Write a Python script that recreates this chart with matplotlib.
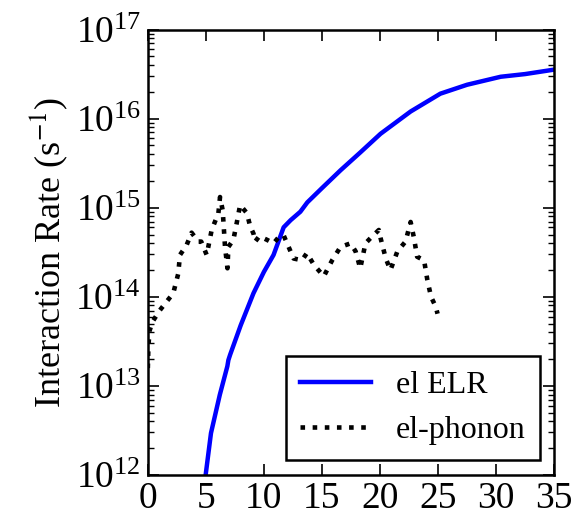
import numpy as np
import matplotlib
matplotlib.use("Agg")
import matplotlib.pyplot as plt
from matplotlib.ticker import LogLocator, FixedLocator

plt.rcParams['font.family'] = ['Liberation Serif', 'DejaVu Serif']
plt.rcParams['mathtext.fontset'] = 'stix'

# el ELR: energy vs log10(rate)
elr_x = [4.98, 5.44, 6.2, 6.85, 6.94, 7.09, 8.0, 9.1, 9.25, 10.0, 10.83, 11.7,
         12.3, 13.14, 13.74, 15.0, 16.6, 18.3, 20.05, 22.64, 25.2, 27.5, 30.4, 32.5, 35.0]
elr_logy = [12.0, 12.47, 12.9, 13.22, 13.29, 13.35, 13.68, 14.04, 14.08, 14.28, 14.47, 14.78,
            14.86, 14.955, 15.06, 15.22, 15.42, 15.62, 15.83, 16.08, 16.28, 16.38, 16.47, 16.5, 16.55]

# el-phonon
ph_x = [0.0, 0.05, 0.15, 0.4, 1.04, 2.19, 2.62, 2.77, 3.34, 3.77, 4.35, 4.6, 5.07, 5.5,
        6.08, 6.22, 6.45, 6.65, 6.86, 6.94, 7.37, 7.66, 7.95, 8.53, 8.82, 9.1, 9.25,
        9.6, 10.26, 10.83, 11.4, 11.7, 12.13, 12.56, 13.28, 13.7, 14.3, 15.16, 15.88,
        16.6, 17.46, 17.9, 18.3, 18.75, 19.19, 19.9, 20.05, 20.5, 20.9, 21.5, 22.2,
        22.64, 22.93, 23.2, 23.8, 24.08, 24.4, 24.8, 24.96]
ph_logy = [13.2, 13.45, 13.62, 13.72, 13.85, 14.04, 14.26, 14.47, 14.58, 14.72, 14.62, 14.62,
           14.47, 14.75, 14.94, 15.12, 14.97, 14.56, 14.32, 14.56, 14.64, 14.83, 15.03, 14.94,
           14.79, 14.71, 14.62, 14.68, 14.64, 14.60, 14.69, 14.69, 14.56, 14.43, 14.41,
           14.49, 14.36, 14.23, 14.41, 14.56, 14.60, 14.51, 14.32, 14.60, 14.66, 14.75,
           14.66, 14.43, 14.30, 14.51, 14.62, 14.84, 14.66, 14.45, 14.41, 14.19, 14.0,
           13.89, 13.81]

fig = plt.figure(figsize=(5.73, 5.18), dpi=100)
ax = fig.add_axes([0.258, 0.083, 0.709, 0.860])

ax.plot(elr_x, 10**np.array(elr_logy), color='#0000ff', lw=3.2, label='el ELR')
ax.plot(ph_x, 10**np.array(ph_logy), color='black', lw=3.3, ls=':', label='el-phonon')

ax.set_yscale('log')
ax.set_xlim(0, 35)
ax.set_ylim(1e12, 1e17)
ax.set_xticks([0, 5, 10, 15, 20, 25, 30, 35])
ax.yaxis.set_major_locator(FixedLocator([1e12, 1e13, 1e14, 1e15, 1e16, 1e17]))
ax.yaxis.set_minor_locator(LogLocator(base=10, subs=np.arange(2, 10), numticks=50))
ax.set_ylabel('Interaction Rate (s$^{-1}$)', fontsize=26, labelpad=4)

for s in ax.spines.values():
    s.set_linewidth(1.8)
ax.tick_params(which='both', direction='in', top=True, right=True, labelsize=27, pad=5)
ax.tick_params(which='major', length=8, width=1.2)
ax.tick_params(which='minor', length=4, width=1.0)

leg = ax.legend(loc='lower right', fontsize=23, fancybox=False, framealpha=1,
                edgecolor='black', handlelength=2.2, borderpad=0.45, borderaxespad=0,
                bbox_to_anchor=(0.966, 0.034))
leg.get_frame().set_linewidth(1.8)

fig.savefig('out.png', dpi=100)
